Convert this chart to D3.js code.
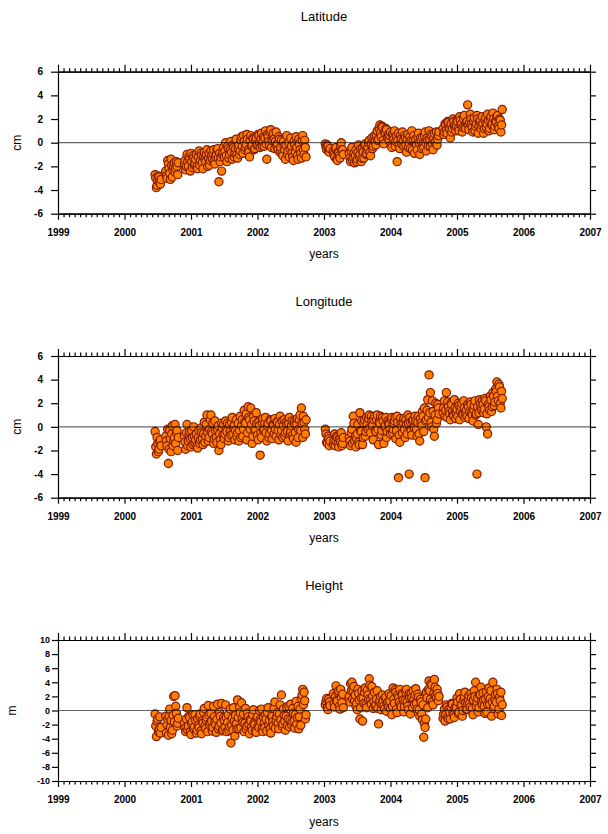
<!DOCTYPE html>
<html><head><meta charset="utf-8">
<script src="https://cdn.jsdelivr.net/npm/d3@7"></script>
<style>html,body{margin:0;padding:0;background:#fff}svg{display:block}</style>
</head><body>
<script>
const years=[1999,2000,2001,2002,2003,2004,2005,2006,2007];
const latTicks=[-6,-4,-2,0,2,4,6];
const heightTicks=[-10,-8,-6,-4,-2,0,2,4,6,8,10];
const titles=["Latitude","Longitude","Height"];
const units=["cm","cm","m"];

// first set of observation epochs
const dates=[
2000.46,2000.48,2000.50,2000.52,2000.54,
2000.62,2000.64,2000.66,2000.68,2000.70,2000.72,2000.74,2000.76,2000.78,2000.80,
2000.90,2000.92,2000.94,2000.96,2000.98,2001.00,2001.02,2001.04,2001.06,2001.08,
2001.10,2001.12,2001.14,2001.16,2001.18,2001.20,2001.22,2001.24,2001.26,2001.28,
2001.30,2001.32,2001.34,2001.36,2001.38,2001.40,2001.42,2001.44,2001.46,2001.48,
2001.50,2001.52,2001.54,2001.56,2001.58,2001.60,2001.62,2001.64,2001.66,2001.68,
2001.70,2001.72,2001.74,2001.76,2001.78,2001.80,2001.82,2001.84,2001.86,2001.88,
2001.90,2001.92,2001.94,2001.96,2001.98,2002.00,2002.02,2002.04,2002.06,2002.08,
2002.10,2002.12,2002.14,2002.16,2002.18,2002.20,2002.22,2002.24,2002.26,2002.28,
2002.30,2002.32,2002.34,2002.36,2002.38,2002.40,2002.42,2002.44,2002.46,2002.48,
2002.50,2002.52,2002.54,2002.56,2002.58,2002.60,2002.62,2002.64,2002.66,2002.68,
2002.70,2002.72,
2003.02,2003.04,2003.06,2003.08,2003.14,2003.16,2003.18,2003.20,2003.22,2003.24,2003.26,2003.28,
2003.38,2003.40,2003.42,2003.44,2003.46,2003.48,2003.50,2003.52,2003.54,2003.56,
2003.58,2003.60,2003.62,2003.64,2003.66,2003.68,2003.70,2003.72,2003.74,2003.76,
2003.78,2003.80,2003.82,2003.84,2003.86,2003.88,2003.90,2003.92,2003.94,2003.96,
2003.98,2004.00,2004.02,2004.04,2004.06,2004.08,2004.10,2004.12,2004.14,2004.16,
2004.18,2004.20,2004.22,2004.24,2004.26,2004.28,2004.30,2004.32,2004.34,2004.36,
2004.38,2004.40,2004.42,2004.44,2004.46,2004.48,2004.50,2004.52,2004.54,2004.56,
2004.58,2004.60,2004.62,2004.64,2004.66,2004.68,2004.70,2004.72,
2004.80,2004.82,2004.84,2004.86,2004.88,2004.90,2004.92,2004.94,2004.96,2004.98,
2005.00,2005.02,2005.04,2005.06,2005.08,2005.10,2005.12,2005.14,2005.16,2005.18,
2005.20,2005.22,2005.24,2005.26,2005.28,2005.30,2005.32,2005.34,2005.36,2005.38,
2005.40,2005.42,2005.44,2005.46,2005.48,2005.50,2005.52,2005.54,2005.56,2005.58,
2005.60,2005.62,2005.64,2005.66,2005.68
];

const latitude=[
-2.7,-3.8,-3.2,-2.9,-3.5,
-2.4,-3.0,-1.8,-2.6,-1.4,-2.9,-2.0,-2.5,-1.6,-2.7,
-1.8,-2.3,-1.0,-2.0,-1.4,-0.9,-2.1,-1.3,-1.8,-1.0,
-2.2,-0.7,-1.5,-1.1,-2.2,-0.8,-1.6,-0.6,-1.3,-1.9,
-0.7,-1.4,-0.6,-1.8,-1.0,-0.5,-3.3,-1.6,-2.4,-0.8,
-1.2,0.0,-1.6,-0.5,-1.0,0.1,-1.4,-0.4,-0.9,0.3,
-1.3,-0.2,-0.7,0.5,-0.9,0.1,-0.4,0.7,-0.6,-1.2,
0.6,-0.2,0.3,-0.5,0.4,-0.1,0.6,-0.4,0.8,0.1,
-0.3,1.0,-1.4,0.5,-0.2,1.1,0.2,0.8,-0.5,0.9,
-0.1,0.5,-0.8,0.2,-1.1,-0.3,-1.4,0.6,-0.7,-1.2,
0.4,-0.9,-1.5,-0.2,0.5,-1.1,0.3,-0.6,-1.3,0.6,
-1.0,-0.4,
-0.1,-0.6,-0.3,-0.8,-0.7,-1.2,-0.4,-1.5,-0.9,-1.3,0.0,-0.6,
-0.9,-1.6,-0.4,-1.2,-1.7,-0.6,-1.4,-0.2,-1.0,-1.6,
-0.5,-1.3,-0.1,-0.9,-0.4,0.2,-1.1,0.4,-0.3,0.6,
-0.2,1.0,0.3,1.5,0.5,1.3,-0.1,0.8,1.1,0.4,
0.2,0.9,-0.4,0.5,1.0,0.1,-1.6,0.8,-0.5,0.3,
0.9,-0.3,0.4,-0.8,0.7,0.0,-0.5,1.0,0.2,-0.9,
0.3,-0.6,0.8,-1.0,0.1,0.5,-0.4,0.9,-0.7,0.2,
1.0,-0.3,0.5,-0.6,0.8,0.1,-0.2,0.6,
0.7,1.6,1.1,1.8,1.3,0.4,0.9,2.0,1.4,1.0,
1.9,1.2,2.2,1.5,0.9,2.0,1.3,1.7,3.2,1.1,
2.4,1.6,0.9,2.1,1.4,2.3,0.8,1.8,1.2,2.2,
0.8,1.9,1.3,2.4,1.0,2.0,1.5,2.5,1.1,1.8,
2.2,1.4,2.0,0.9,2.8
];

const longitude=[
-0.4,-2.3,-1.4,-1.9,-1.1,
-0.8,-1.6,-3.1,-0.3,-2.1,0.1,-1.2,0.2,-0.5,-2.0,
-0.8,-1.9,0.2,-1.2,-0.4,-1.7,-0.9,0.0,-1.4,-0.6,
-1.8,-0.3,-1.1,-0.5,-1.5,0.4,-0.8,1.0,-1.2,-0.2,
1.0,-0.6,-1.4,0.5,-0.9,-0.2,-2.0,-1.1,0.3,-0.7,
-1.0,0.5,-0.4,-1.2,0.2,-0.7,0.8,-0.1,-1.1,0.6,
-0.5,-1.2,0.9,0.1,-0.8,1.4,0.3,-1.1,1.7,0.6,
1.6,-1.4,0.9,-0.3,1.2,-0.7,0.4,-2.4,-0.9,0.7,
-0.2,0.8,-1.2,0.3,-0.6,0.5,-1.0,0.1,0.7,-0.8,
0.4,-1.1,0.9,-0.3,-0.9,0.6,-0.5,0.2,-1.2,0.8,
-0.4,0.5,-1.0,0.2,-1.3,0.7,-0.2,1.0,1.6,-0.9,
0.4,-0.6,
-0.2,-1.3,-0.8,-1.6,-1.5,-0.6,-1.2,-0.9,-1.7,-1.1,-0.5,-1.4,
-0.9,-1.6,-0.2,0.9,-1.2,-1.7,-0.6,-1.3,1.2,-0.4,
-1.5,0.3,-0.8,0.8,-0.2,1.0,-0.5,0.5,-1.1,0.9,
-0.4,1.0,-1.5,0.3,-0.7,0.8,-1.4,0.1,-0.9,0.5,
0.2,-0.6,0.8,-0.2,0.5,-1.0,0.9,-4.3,-1.3,0.3,
-0.5,0.7,-0.9,0.2,1.0,-4.0,0.4,-0.7,0.6,-0.1,
0.5,-0.8,0.9,-1.2,0.3,1.3,-0.4,-4.3,0.6,2.3,
4.4,2.9,0.0,1.3,-0.8,2.0,0.6,1.6,
1.6,0.9,2.9,2.1,1.3,0.6,1.9,1.0,2.3,0.7,
1.5,2.0,0.6,1.7,1.1,2.2,0.8,1.4,1.9,0.7,
2.1,1.2,0.5,1.8,1.0,-4.0,0.2,2.3,1.6,2.2,
1.2,2.4,0.0,-0.6,1.7,2.6,1.3,2.9,1.8,3.2,
3.8,2.2,3.4,1.6,2.4
];

const height=[
-0.5,-3.7,-1.2,-2.7,-3.2,
-0.8,-2.0,-3.5,0.2,-1.4,-2.8,2.0,2.1,-0.4,-1.8,
-1.8,-3.0,0.4,-2.2,-1.0,-3.4,-1.6,-2.6,-0.6,-3.2,
-1.2,-2.4,-0.5,-3.3,-1.8,0.3,-2.6,-1.0,0.7,-2.0,
-0.4,-2.9,0.6,-1.6,-3.1,0.9,-2.2,-0.8,1.0,-2.7,
-1.4,0.8,-3.0,-0.6,-2.3,-4.6,-1.1,0.4,-3.6,-1.9,
1.5,-2.6,-0.3,1.1,-1.7,-3.0,0.3,-2.2,-0.9,-3.3,
-1.5,-2.8,0.1,-2.0,-3.1,-0.9,-2.4,-1.3,0.2,-3.0,
-1.8,-0.6,-2.9,0.4,-1.4,-3.2,-0.8,-2.2,1.2,-1.5,
-0.3,-2.6,0.8,2.2,-1.9,-0.7,-2.8,0.5,-1.2,-2.3,
0.9,-1.6,-0.4,-2.5,1.3,-1.0,-2.6,0.2,1.7,3.0,
2.6,-1.2,
0.8,1.7,0.1,1.2,2.4,0.5,3.5,1.3,2.8,0.2,1.8,2.3,
2.0,3.8,4.0,2.8,1.4,0.6,0.1,2.4,-1.2,1.8,
-1.5,1.0,3.2,0.4,2.2,4.5,1.5,3.4,0.3,2.6,
0.8,2.8,-1.9,1.4,0.1,2.2,0.6,1.8,-0.1,1.2,
2.4,0.3,-0.6,3.2,1.0,2.6,-0.3,1.8,3.0,0.5,
2.2,-0.2,1.4,3.0,0.6,2.4,-0.5,1.8,2.8,0.9,
3.1,0.2,1.9,-0.8,1.2,-1.3,-3.8,-2.4,2.6,0.4,
4.2,1.6,3.6,0.8,4.4,2.2,3.0,1.4,
-0.5,-1.5,0.8,-0.9,0.2,-1.2,1.0,-0.3,-1.0,0.6,
1.8,-0.4,2.4,0.7,-0.8,1.4,2.6,0.1,1.0,2.1,
0.5,1.8,-0.6,2.8,4.0,1.2,-0.2,2.2,3.3,0.8,
1.5,-0.4,2.6,0.9,3.2,1.7,-0.8,4.0,0.6,2.3,
3.0,-0.5,1.9,2.6,0.8
];

// second set of observation epochs (in between the first set)
const dates2=[
2000.47,2000.49,2000.51,2000.53,2000.55,
2000.63,2000.65,2000.67,2000.69,2000.71,2000.73,2000.75,2000.77,2000.79,2000.81,
2000.91,2000.93,2000.95,2000.97,2000.99,2001.01,2001.03,2001.05,2001.07,2001.09,
2001.11,2001.13,2001.15,2001.17,2001.19,2001.21,2001.23,2001.25,2001.27,2001.29,
2001.31,2001.33,2001.35,2001.37,2001.39,2001.41,2001.43,2001.45,2001.47,2001.49,
2001.51,2001.53,2001.55,2001.57,2001.59,2001.61,2001.63,2001.65,2001.67,2001.69,
2001.71,2001.73,2001.75,2001.77,2001.79,2001.81,2001.83,2001.85,2001.87,2001.89,
2001.91,2001.93,2001.95,2001.97,2001.99,2002.01,2002.03,2002.05,2002.07,2002.09,
2002.11,2002.13,2002.15,2002.17,2002.19,2002.21,2002.23,2002.25,2002.27,2002.29,
2002.31,2002.33,2002.35,2002.37,2002.39,2002.41,2002.43,2002.45,2002.47,2002.49,
2002.51,2002.53,2002.55,2002.57,2002.59,2002.61,2002.63,2002.65,2002.67,2002.69,
2002.71,2002.73,
2003.03,2003.05,2003.07,2003.09,2003.15,2003.17,2003.19,2003.21,2003.23,2003.25,2003.27,2003.29,
2003.39,2003.41,2003.43,2003.45,2003.47,2003.49,2003.51,2003.53,2003.55,2003.57,
2003.59,2003.61,2003.63,2003.65,2003.67,2003.69,2003.71,2003.73,2003.75,2003.77,
2003.79,2003.81,2003.83,2003.85,2003.87,2003.89,2003.91,2003.93,2003.95,2003.97,
2003.99,2004.01,2004.03,2004.05,2004.07,2004.09,2004.11,2004.13,2004.15,2004.17,
2004.19,2004.21,2004.23,2004.25,2004.27,2004.29,2004.31,2004.33,2004.35,2004.37,
2004.39,2004.41,2004.43,2004.45,2004.47,2004.49,2004.51,2004.53,2004.55,2004.57,
2004.59,2004.61,2004.63,2004.65,2004.67,2004.69,2004.71,2004.73,
2004.79,2004.81,2004.83,2004.85,2004.87,2004.89,2004.91,2004.93,2004.95,2004.97,
2004.99,2005.01,2005.03,2005.05,2005.07,2005.09,2005.11,2005.13,2005.15,2005.17,
2005.19,2005.21,2005.23,2005.25,2005.27,2005.29,2005.31,2005.33,2005.35,2005.37,
2005.39,2005.41,2005.43,2005.45,2005.47,2005.49,2005.51,2005.53,2005.55,2005.57,
2005.59,2005.61,2005.63,2005.65,2005.67
];

const latitude2=[
-3.0,-3.6,-2.8,-3.3,-3.1,
-2.8,-1.5,-2.2,-3.1,-1.9,-2.3,-1.7,-2.2,-2.0,-1.7,
-1.5,-2.0,-1.6,-1.2,-2.4,-1.6,-1.1,-1.9,-1.4,-2.0,
-1.2,-1.9,-0.9,-1.7,-1.2,-1.4,-1.0,-2.0,-0.9,-1.5,
-1.1,-0.9,-1.5,-1.2,-0.6,-1.3,-0.9,-1.2,-1.0,-0.4,
-0.7,-1.1,-0.3,-1.3,-0.6,-0.8,-0.2,-1.2,-0.5,-1.0,
-0.5,-1.0,0.2,-0.3,0.6,-0.6,-0.1,0.3,-0.8,0.2,
-0.3,0.4,-0.6,0.2,-0.2,0.7,0.0,0.3,-0.3,0.5,
0.4,-0.1,0.7,0.1,0.9,-0.4,0.6,0.3,0.1,-0.3,
-0.6,0.3,-0.4,-0.9,0.1,-0.6,-0.2,-1.0,0.0,-0.5,
-0.3,-1.2,0.1,-0.8,-0.4,-1.4,-0.1,-0.9,0.2,-0.6,
0.2,-1.2,
-0.4,-0.2,-0.7,-0.5,-1.0,-0.5,-1.4,-0.8,-1.1,-0.3,-0.6,-1.0,
-1.3,-0.7,-1.5,-0.9,-1.1,-1.6,-0.8,-1.2,-0.5,-1.3,
-0.8,-0.2,-1.0,-0.6,0.0,-0.8,-0.1,-0.5,0.3,0.1,
0.6,0.2,1.2,0.8,1.4,0.2,0.9,1.2,0.5,0.7,
0.6,-0.2,0.7,0.3,-0.3,0.6,0.2,-0.2,0.6,-0.1,
0.2,0.6,-0.2,0.3,-0.4,0.5,0.2,-0.6,0.6,0.0,
-0.2,0.5,0.0,0.4,-0.5,-0.1,0.6,0.0,0.4,-0.3,
0.3,0.7,-0.1,0.4,0.0,0.9,0.3,0.9,
1.2,0.9,1.5,0.8,1.7,1.1,1.6,1.2,1.8,1.5,
1.4,1.8,1.0,1.9,1.6,1.3,2.3,1.2,1.8,1.5,
1.7,2.0,1.3,1.8,1.0,1.6,2.0,1.4,1.9,1.5,
1.6,1.2,2.1,1.6,1.9,1.2,2.2,1.6,2.0,1.4,
1.8,2.3,1.2,1.9,1.5
];

const longitude2=[
-1.7,-0.9,-2.1,-1.3,-1.6,
-1.2,-0.2,-1.9,-1.0,-0.6,-1.6,-0.9,-1.4,-0.3,-0.9,
-1.3,-0.5,-1.6,-0.7,-1.0,-0.3,-1.5,-0.8,-1.1,-1.6,
-0.9,-1.4,-0.1,-1.0,-0.6,-1.3,0.2,-0.5,-0.9,0.6,
-0.4,0.3,-1.0,-0.3,-1.3,0.1,-0.6,-1.5,-0.1,0.2,
-0.6,-0.2,0.3,-0.9,-0.4,0.4,-0.6,0.1,-0.3,-0.8,
0.3,-0.3,-0.9,0.6,-0.2,0.4,1.1,-0.5,0.8,-0.2,
0.2,-0.8,0.5,-0.2,0.3,-1.1,0.1,-0.5,0.4,-0.3,
0.3,-0.5,0.1,-0.9,0.6,-0.3,0.2,-0.6,-0.2,0.4,
-0.3,0.2,-0.7,0.5,0.1,-0.8,0.4,-0.4,0.3,-0.6,
0.1,-0.7,0.4,-0.5,0.2,-0.9,0.6,-0.3,0.3,0.9,
-0.2,0.6,
-0.6,-1.4,-1.0,-1.2,-1.2,-1.6,-0.8,-1.4,-1.0,-1.3,-1.6,-0.9,
-1.2,-0.5,-1.4,0.3,-0.8,-1.0,0.2,-1.5,-0.3,0.5,
-0.9,0.6,-0.4,0.2,0.7,-0.1,0.9,0.1,0.6,-0.3,
0.6,-0.2,0.4,0.9,-0.3,0.5,0.0,0.8,-0.4,0.3,
-0.2,0.6,-0.5,0.3,0.8,-0.3,0.4,-0.7,0.7,0.0,
0.4,-0.2,0.6,-0.6,0.3,0.8,-0.3,0.5,0.0,0.9,
-0.2,0.4,-0.6,0.7,0.1,0.9,1.6,0.5,1.4,0.8,
1.2,0.4,2.2,-0.2,1.0,0.3,1.9,1.1,
1.2,2.2,1.4,0.8,1.7,1.1,2.0,1.3,0.9,1.6,
1.2,0.9,1.8,1.3,2.0,1.0,1.6,1.2,0.9,1.7,
1.3,1.9,1.0,1.5,2.2,1.1,1.7,1.2,2.0,1.4,
1.9,1.5,2.2,1.1,1.9,1.4,2.3,1.7,2.6,2.1,
3.0,2.6,3.6,2.0,3.0
];

const height2=[
-2.2,-1.5,-3.0,-0.9,-2.4,
-3.2,-1.2,-0.9,-2.4,-3.3,-0.7,-1.6,0.6,-2.2,-1.1,
-2.5,-1.2,-2.8,-0.8,-3.0,-1.9,-0.6,-2.3,-1.4,-2.8,
-2.1,-0.8,-2.9,-1.5,-0.3,-2.2,-1.4,-3.0,-0.6,-1.7,
-1.5,-2.4,-0.9,-2.0,-1.2,-2.6,-0.3,-1.8,-2.9,-1.0,
-2.4,-1.0,-1.7,-2.8,0.2,-2.1,-2.8,-1.5,-0.7,-2.6,
-1.0,0.5,-2.4,-1.2,-0.5,-1.8,-2.6,-0.4,-2.0,-1.3,
-2.4,-0.6,-1.8,-2.9,-1.1,-2.2,0.0,-1.6,-2.6,-1.0,
-2.4,-1.2,-0.3,-2.0,-2.6,-0.9,-1.6,0.3,-2.5,-0.8,
-1.8,-0.5,-1.3,-2.2,0.2,-1.5,-0.8,-2.1,0.6,-1.4,
-2.0,0.3,-1.5,-0.6,-1.9,0.6,-0.9,-2.1,2.2,0.8,
1.4,-0.6,
1.3,0.4,1.6,0.7,1.0,2.0,1.4,2.6,0.6,3.0,1.1,0.4,
1.2,2.8,1.6,3.4,2.2,1.0,3.0,1.5,0.4,2.8,
1.8,2.6,0.8,2.9,1.6,3.6,0.9,2.0,1.3,0.6,
1.6,0.3,1.2,2.0,0.9,1.4,0.2,1.9,1.0,0.5,
1.3,2.1,0.6,1.6,2.9,0.2,2.2,1.2,0.8,2.4,
1.5,0.6,2.6,1.2,0.1,1.8,2.4,0.4,1.6,2.2,
1.0,2.3,0.1,1.6,-0.5,0.8,-1.8,-1.2,1.8,3.0,
2.8,3.8,1.2,2.4,3.3,1.8,2.4,2.0,
-1.1,0.2,-0.6,0.5,-1.2,-0.2,0.4,0.9,-0.6,0.3,
0.4,1.2,-0.2,1.6,0.8,0.0,1.9,1.1,0.2,1.5,
1.0,2.4,0.3,1.5,2.0,0.6,1.8,0.4,2.3,1.2,
2.5,0.6,1.6,-0.2,2.0,0.9,2.8,1.2,0.3,1.5,
1.2,2.4,0.2,1.4,-0.7
];

const W=608,H=834;
const svg=d3.select("body").append("svg").attr("width",W).attr("height",H);
const x=d3.scaleLinear().domain([1999,2007]).range([58,590]);
const FONT='"Liberation Sans", Arial, Helvetica, sans-serif';

const panels=[
  {values:latitude, values2:latitude2, top:71.7, bottom:213.7, domain:[-6,6], ticks:latTicks, fs:10, pad:8, tl:7, unitX:21},
  {values:longitude, values2:longitude2, top:356, bottom:497.7, domain:[-6,6], ticks:latTicks, fs:10, pad:8, tl:7, unitX:21},
  {values:height, values2:height2, top:640, bottom:781, domain:[-10,10], ticks:heightTicks, fs:9, pad:2, tl:6, unitX:15.5}
];

const minor=d3.range(1999,2007.001,1/12).filter(v=>Math.abs(v-Math.round(v))>1e-6);

function styleAxis(g){
  g.selectAll("path,line").attr("stroke","#000").attr("stroke-width",1.2);
  g.selectAll("text").attr("fill","#000").style("font-family",FONT).style("font-weight","bold");
}

panels.forEach((p,i)=>{
  if(p.values.length!==dates.length||p.values2.length!==dates2.length){
    svg.append("text").attr("x",10).attr("y",20+i*12).text("len mismatch "+i+": "+p.values.length+"/"+dates.length+" "+p.values2.length+"/"+dates2.length);
  }
  const y=d3.scaleLinear().domain(p.domain).range([p.bottom,p.top]);
  const g=svg.append("g");
  const pts=d3.zip(dates,p.values).concat(d3.zip(dates2,p.values2)).sort((a,b)=>a[0]-b[0]);

  g.append("g").selectAll("circle").data(pts).join("circle")
    .attr("cx",d=>x(d[0])).attr("cy",d=>y(d[1])).attr("r",4.1)
    .attr("fill","#ff8000").attr("stroke","#801a08").attr("stroke-width",1.2);

  g.append("line").attr("x1",x(1999)).attr("x2",x(2007)).attr("y1",y(0)).attr("y2",y(0))
    .attr("stroke","#000").attr("stroke-opacity",0.6).attr("stroke-width",1.2);

  const la=g.append("g").attr("transform",`translate(${x(1999)},0)`)
    .call(d3.axisLeft(y).tickValues(p.ticks).tickSize(p.tl).tickSizeOuter(0).tickPadding(p.pad).tickFormat(d=>String(d)));
  la.selectAll("text").style("font-size",p.fs+"px");
  styleAxis(la);
  const ra=g.append("g").attr("transform",`translate(${x(2007)},0)`)
    .call(d3.axisRight(y).tickValues(p.ticks).tickSize(6).tickSizeOuter(0).tickFormat(""));
  styleAxis(ra);
  const ba=g.append("g").attr("transform",`translate(0,${p.bottom})`)
    .call(d3.axisBottom(x).tickValues(years).tickSize(6).tickSizeOuter(0).tickPadding(9).tickFormat(d=>String(d)));
  ba.selectAll("text").style("font-size","10px");
  styleAxis(ba);
  const bm=g.append("g").attr("transform",`translate(0,${p.bottom})`)
    .call(d3.axisBottom(x).tickValues(minor).tickSize(3.5).tickSizeOuter(0).tickFormat(""));
  styleAxis(bm);
  const ta=g.append("g").attr("transform",`translate(0,${p.top})`)
    .call(d3.axisTop(x).tickValues(years).tickSize(7).tickSizeOuter(0).tickFormat(""));
  styleAxis(ta);
  const tm=g.append("g").attr("transform",`translate(0,${p.top})`)
    .call(d3.axisTop(x).tickValues(minor).tickSize(3.5).tickSizeOuter(0).tickFormat(""));
  styleAxis(tm);

  svg.append("text").attr("x",(x(1999)+x(2007))/2).attr("y",p.top-50.5)
    .attr("text-anchor","middle").style("font-family",FONT).style("font-size","13px").text(titles[i]);
  svg.append("text").attr("x",(x(1999)+x(2007))/2).attr("y",p.bottom+44.5)
    .attr("text-anchor","middle").style("font-family",FONT).style("font-size","12px").text("years");
  svg.append("text").attr("transform",`translate(${p.unitX},${(p.top+p.bottom)/2}) rotate(-90)`)
    .attr("text-anchor","middle").style("font-family",FONT).style("font-size","12px").text(units[i]);
});
</script>
</body></html>
